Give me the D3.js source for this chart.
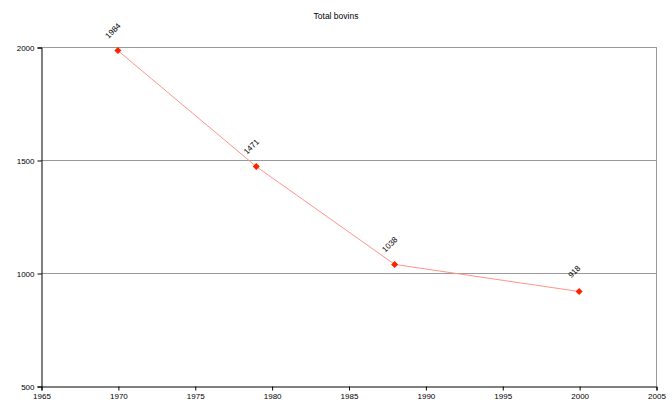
<!DOCTYPE html>
<html>
<head>
<meta charset="utf-8">
<script src="https://cdn.jsdelivr.net/npm/d3@7"></script>
<style>
  body { margin: 0; background: #fff; }
  text { font-family: "Liberation Sans", Arial, sans-serif; fill: #000; }
</style>
</head>
<body>
<div id="chart"></div>
<script>
// Données
const years = [1970, 1979, 1988, 2000];
const bovins = [1984, 1471, 1038, 918];
const xTicks = [1965, 1970, 1975, 1980, 1985, 1990, 1995, 2000, 2005];
const yTicks = [500, 1000, 1500, 2000];
const title = "Total bovins";

const width = 672, height = 405;
const margin = {top: 47, right: 16, bottom: 19, left: 41};

const svg = d3.select("#chart").append("svg")
    .attr("width", width)
    .attr("height", height);

const x = d3.scaleLinear()
    .domain([1965, 2005])
    .range([margin.left, width - margin.right]);

const y = d3.scaleLinear()
    .domain([500, 2000])
    .range([height - margin.bottom, margin.top]);

// Titre
svg.append("text")
    .attr("x", width / 2)
    .attr("y", 19)
    .attr("text-anchor", "middle")
    .attr("font-size", "8.5px")
    .text(title);

// Grille horizontale
svg.append("g")
    .selectAll("line")
    .data(yTicks.filter(d => d > 500))
    .join("line")
    .attr("x1", x(1965)).attr("x2", x(2005))
    .attr("y1", d => y(d) + 0.5).attr("y2", d => y(d) + 0.5)
    .attr("stroke", "#999")
    .attr("stroke-width", 1);

// Bord droit
svg.append("line")
    .attr("x1", x(2005) + 0.5).attr("x2", x(2005) + 0.5)
    .attr("y1", y(2000)).attr("y2", y(500))
    .attr("stroke", "#999");

// Axe Y
const yAxis = svg.append("g")
    .attr("transform", `translate(${x(1965) + 0.5},0.5)`)
    .call(d3.axisLeft(y).tickValues(yTicks).tickSize(4).tickPadding(3).tickFormat(d3.format("d")));
yAxis.selectAll("text").attr("font-size", "8px").attr("font-family", "Liberation Sans, Arial, sans-serif");
yAxis.select(".domain").attr("stroke", "#000");

// Axe X
const xAxis = svg.append("g")
    .attr("transform", `translate(0.5,${y(500) + 0.5})`)
    .call(d3.axisBottom(x).tickValues(xTicks).tickSize(4).tickPadding(3).tickFormat(d3.format("d")));
xAxis.selectAll("text").attr("font-size", "8px").attr("font-family", "Liberation Sans, Arial, sans-serif");
xAxis.select(".domain").attr("stroke", "#000");

// Ligne
const data = years.map((d, i) => ({year: d, value: bovins[i]}));
const line = d3.line()
    .x(d => x(d.year))
    .y(d => y(d.value));

svg.append("path")
    .datum(data)
    .attr("fill", "none")
    .attr("stroke", "#ff9488")
    .attr("stroke-width", 1)
    .attr("d", line);

// Marqueurs (losanges)
svg.append("g")
    .selectAll("path")
    .data(data)
    .join("path")
    .attr("transform", d => `translate(${x(d.year)},${y(d.value)})`)
    .attr("d", "M0,-3.5L3.5,0L0,3.5L-3.5,0Z")
    .attr("fill", "#ff2000");

// Étiquettes
svg.append("g")
    .selectAll("text")
    .data(data)
    .join("text")
    .attr("transform", d => `translate(${x(d.year) - 3},${y(d.value) - 18}) rotate(-45)`)
    .attr("text-anchor", "middle")
    .attr("font-size", "8px")
    .text(d => d.value);
</script>
</body>
</html>
